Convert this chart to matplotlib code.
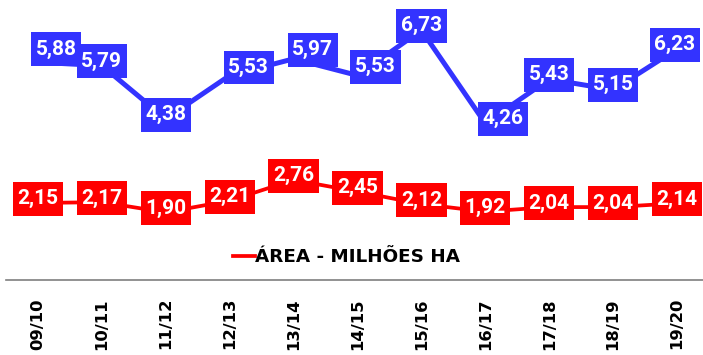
import matplotlib
matplotlib.use("Agg")
import matplotlib.pyplot as plt

safras = ['09/10', '10/11', '11/12', '12/13', '13/14', '14/15',
          '15/16', '16/17', '17/18', '18/19', '19/20']
produtividade = [5.88, 5.79, 4.38, 5.53, 5.97, 5.53, 6.73, 4.26, 5.43, 5.15, 6.23]
area = [2.15, 2.17, 1.90, 2.21, 2.76, 2.45, 2.12, 1.92, 2.04, 2.04, 2.14]

AZUL = '#3333ff'
VERMELHO = '#ff0000'

# deslocamento (px) dos rótulos azuis em relação ao ponto
desloc_azul = [(18, 13), (0, 4.5), (0, 4), (19, 8), (19, 9), (18, 8.5),
               (0, 4.3), (18, 4.5), (0, 4.3), (0, 4.9), (-2, 4.2)]

fig = plt.figure(figsize=(7.03, 3.55), dpi=100)
ax = fig.add_axes([6 / 703, 1 - 280 / 355, 697 / 703, 280 / 355])

x = list(range(len(safras)))
ax.plot(x, produtividade, color=AZUL, lw=3.6, zorder=2)
linha_area, = ax.plot(x, area, color=VERMELHO, lw=2.7, zorder=2)


def rotulo(xi, yi, v, cor, dx, dy):
    ax.annotate(f'{v:.2f}'.replace('.', ','), (xi, yi),
                xytext=(dx, dy), textcoords='offset pixels',
                ha='center', va='center', color='white',
                fontsize=15, fontfamily='Roboto', fontweight='bold',
                bbox=dict(boxstyle='square,pad=0.22', fc=cor, ec='none',
                          mutation_aspect=1.6),
                zorder=3)


for i, v in enumerate(produtividade):
    rotulo(i, v, v, AZUL, *desloc_azul[i])
for i, v in enumerate(area):
    rotulo(i, v, v, VERMELHO, 0, 4)

ax.set_xlim(-0.501, 10.407)
ax.set_ylim(0.107, 7.53)
ax.set_yticks([])
ax.set_xticks(x)
ax.set_xticklabels(safras, rotation=90, fontsize=11.8,
                   fontfamily='DejaVu Sans', fontweight='bold')
ax.tick_params(axis='x', length=0, pad=13)
for s in ['top', 'left', 'right']:
    ax.spines[s].set_visible(False)
ax.spines['bottom'].set_color('#7f7f7f')
ax.spines['bottom'].set_linewidth(1.2)

ax.legend(handles=[linha_area], labels=['ÁREA - MILHÕES HA'],
          loc='center', bbox_to_anchor=(347 / 703, 1 - 257 / 355),
          bbox_transform=fig.transFigure, frameon=False,
          handlelength=1.15, handletextpad=0.05,
          prop=dict(family='DejaVu Sans', weight='bold', size=13.2))

fig.savefig('out.png', dpi=100)
